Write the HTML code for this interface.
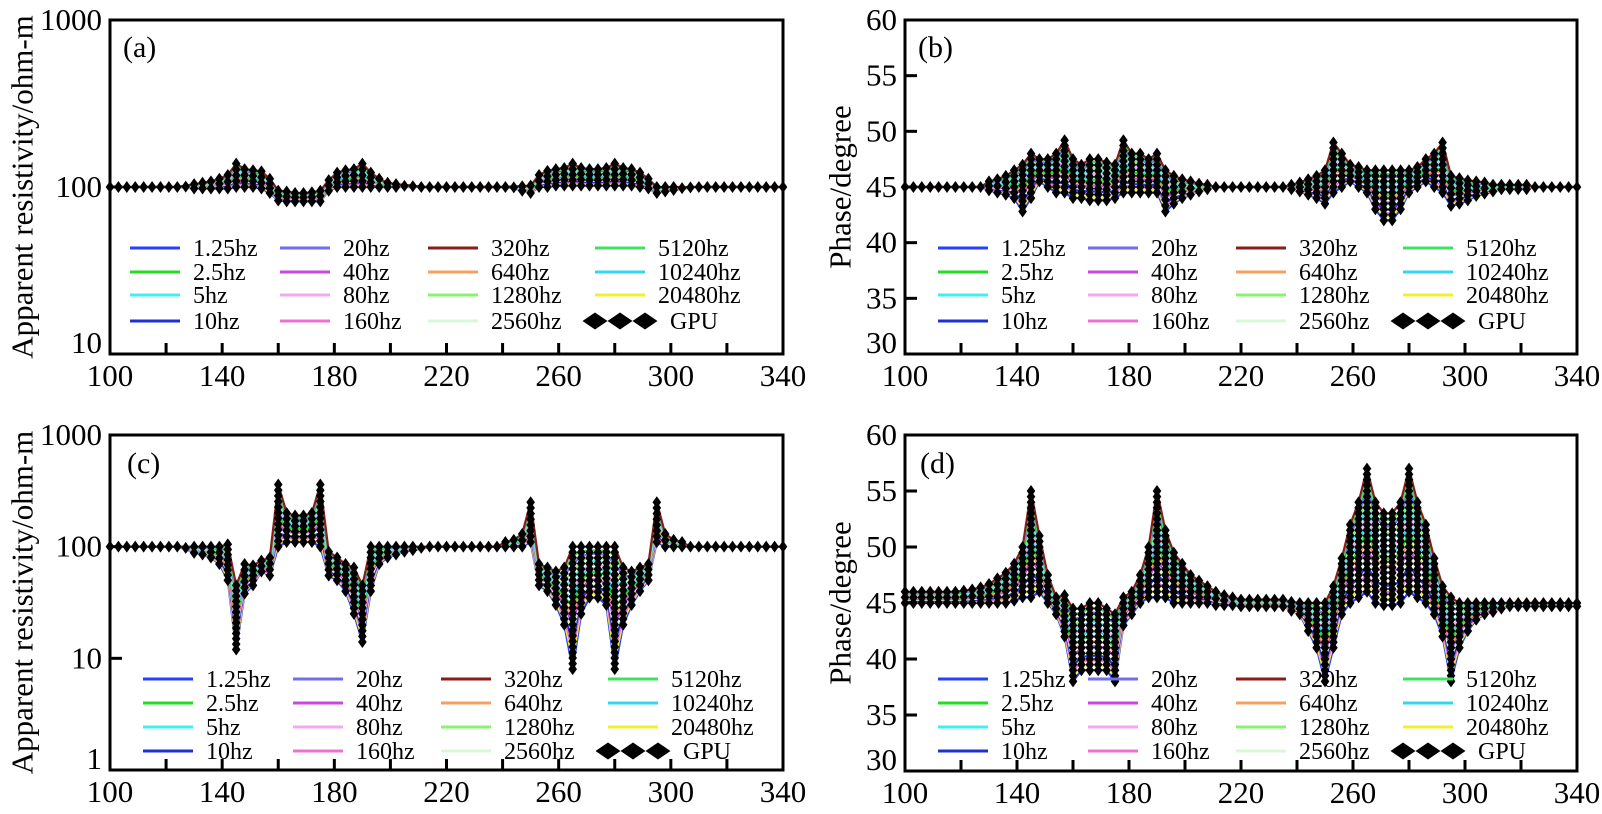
<!DOCTYPE html>
<html><head><meta charset="utf-8"><style>
html,body{margin:0;padding:0;background:#fff;}
svg{display:block;font-family:"Liberation Serif","DejaVu Serif",serif;}
</style></head><body>
<svg id="fig" width="1602" height="814" viewBox="0 0 1602 814"></svg>
<script>
// ---- shared station positions (x axis categories) ----
const stations = [100,103,106,109,112,115,118,121,124,127,130,133,136,139,142,145,148,151,154,157,160,163,166,169,172,175,178,181,184,187,190,193,196,199,202,205,208,211,214,217,220,223,226,229,232,235,238,241,244,247,250,253,256,259,262,265,268,271,274,277,280,283,286,289,292,295,298,301,304,307,310,313,316,319,322,325,328,331,334,337,340];

// ---- panel (a): apparent resistivity, model 1 (low / high across frequencies) ----
const aLo = [100,100,100,100,100,100,100,100,100, 99,98,98,98,98,98, 100,100,100,98,92, 83,82,82,82,82,82, 95,100,100,100,100,100,100,100,100,100,100, 100,100,100,100,100,100,100,100,100,100,100, 98,95,92, 100,100,102,102,102,102,102,102,102,102,102,102,100,98, 92,94,96,97,99, 100,100,100,100,100,100,100,100,100,100,100];
const aHi = [100,100,100,100,100,100,100,100,100, 102,104,106,108,112,118, 138,128,126,124,112, 95,94,92,92,93,95, 110,122,126,128,138,122,112,106,104,103,102, 100,100,100,100,100,100,100,100,100,100,100, 101,101,102, 118,125,128,130,138,130,128,128,130,138,130,128,122,112, 100,100,100,100,100, 100,100,100,100,100,100,100,100,100,100,100];

// ---- panel (b): phase, model 1 ----
const bLo = [45,45,45,45,45,45,45,45,45,45, 44.7,44.5,44.3,44,42.8,44,45.5,45,44.5,44.5,44,44,43.8,43.8,43.8,44,44.5,44.5,44.5,44.5,44.5,42.8,43.5,44,44.3,44.6, 44.8, 45,45,45,45,45,45,45,45,45, 44.8, 44.6,44.3,44,43.5,44.5,45,45.5,45,44.5,43,42,42,43,44.5,45,45.5,45,44.5,43.3,43.5,43.8,44.2,44.4,44.6, 44.8,44.8,44.8,44.8, 45,45,45,45,45,45];
const bHi = [45,45,45,45,45,45,45,45,45,45, 45.5,45.7,46,46.5,47,48,47.5,47.5,48,49.2,47.5,47,47.5,47.5,47.2,47,49.2,48,48,47.5,48,46.5,46,45.7,45.5,45.3, 45.2, 45,45,45,45,45,45,45,45,45, 45.2, 45.4,45.7,46,46.5,49,48,47,46.8,46.5,46.5,46.5,46.5,46.5,46.5,46.8,47.5,48,49,46,45.8,45.6,45.5,45.4,45.2, 45.2,45.2,45.2,45.2, 45,45,45,45,45,45];

// ---- panel (c): apparent resistivity, model 2 ----
const cLo = [100,100,100,100,100,100,100,100,100,95, 88,85,80,70,50,12,38,45,60,55,100,110,110,110,110,100,55,50,40,25,14,40,70,80,85,90,93,95, 100,100,100,100,100,100,100,100,100, 100,100,100,110,45,40,30,20,8,25,35,35,30,8,20,30,40,50,110,100,100,100, 100,100,100,100,100,100,100,100,100,100,100,100];
const cHi = [100,100,100,100,100,100,100,100,100,100, 100,100,100,100,105,45,70,68,75,80,360,200,190,190,200,360,90,80,70,65,45,100,100,100,100,100,100,100, 100,100,100,100,100,100,100,100,100, 110,115,130,250,70,65,60,65,100,100,100,100,100,100,65,60,65,70,250,130,115,110, 100,100,100,100,100,100,100,100,100,100,100,100];

// ---- panel (d): phase, model 2 ----
const dLo = [45,45,45,45,45,45,45, 45,45,45,45,45,45,45.2,45.5,45.5,46,45,44,42,38,39,39,39,39,38,43,44,45,45.5,45.5,45.5,45,45,45,45,45,44.8,44.8,44.8, 44.7,44.7,44.7,44.7,44.7,44.7, 44.3,44,42.5,41,38,41,44,45,45.5,46,45,44.8,44.8,45,46,45.5,45,44,42,38,41,42.5,43.5,44,44.2,44.5, 44.7,44.7,44.7,44.7,44.7,44.7,44.7,44.7,44.7];
const dHi = [46,46,46,46,46,46,46, 46.1,46.2,46.4,46.7,47.2,47.7,48.5,50,55,51,47.5,45.5,45.7,44.5,44.5,45,45,44.5,44,45.5,46,47.5,50,55,51.5,49.5,48.5,47.5,47,46.5,46,45.7,45.5, 45.3,45.3,45.3,45.3,45.3,45.3, 45.1,45,45,45,45,46.5,49,52,54,57,54,53,53,54,57,54,52,49,46.5,45.5,45,45,45,45,45,45, 45,45,45,45,45,45,45,45,45];

// ---- axis tick labels ----
const xTickLabels = [100,140,180,220,260,300,340];
const resTicksA = [10,100,1000];
const resTicksC = [1,10,100,1000];
const phaseTicks = [30,35,40,45,50,55,60];
const freqNames = ["1.25hz","2.5hz","5hz","10hz","20hz","40hz","80hz","160hz","320hz","640hz","1280hz","2560hz","5120hz","10240hz","20480hz"];
const freqColors = ["#2540ff","#22dd22","#40f0f0","#2030d0","#6f6ff2","#c848e0","#f4a8f4","#f070d0","#8a1c1c","#f4a060","#8cf070","#d8f8d8","#40e060","#30d8f0","#f0f030"];

const NS="http://www.w3.org/2000/svg";
const svg=document.getElementById('fig');
function mk(tag,attrs,parent){const e=document.createElementNS(NS,tag);for(const k in attrs)e.setAttribute(k,attrs[k]);(parent||svg).appendChild(e);return e;}

const panels=[
 {id:'a',L:110,T:20,R:783,B:354,log:true,ymin:10,ymax:1000,ticks:resTicksA,lo:aLo,hi:aHi,legX:130,legY:[248,272,295,321],title:'Apparent resistivity/ohm-m',titleX:22,labX:123,labY:57},
 {id:'b',L:905,T:20,R:1577,B:354,log:false,ymin:30,ymax:60,ticks:phaseTicks,lo:bLo,hi:bHi,legX:938,legY:[248,272,295,321],title:'Phase/degree',titleX:840,labX:918,labY:57},
 {id:'c',L:110,T:435,R:783,B:770,log:true,ymin:1,ymax:1000,ticks:resTicksC,lo:cLo,hi:cHi,legX:143,legY:[679,703,727,751],title:'Apparent resistivity/ohm-m',titleX:22,labX:127,labY:473},
 {id:'d',L:905,T:435,R:1577,B:771,log:false,ymin:30,ymax:60,ticks:phaseTicks,lo:dLo,hi:dHi,legX:938,legY:[679,703,727,751],title:'Phase/degree',titleX:840,labX:920,labY:473}
];

function diamond(cx,cy,w,h,parent){
  return mk('polygon',{points:`${cx},${cy-h} ${cx+w},${cy} ${cx},${cy+h} ${cx-w},${cy}`,fill:'#000'},parent);
}

panels.forEach(p=>{
  const g=mk('g',{});
  
  
  const xs=v=>p.L+(v-100)/(340-100)*(p.R-p.L);
  const ys=v=>p.log? p.B-(Math.log10(v)-Math.log10(p.ymin))/(Math.log10(p.ymax)-Math.log10(p.ymin))*(p.B-p.T)
                    : p.B-(v-p.ymin)/(p.ymax-p.ymin)*(p.B-p.T);
  const lg=mk('g',{},g);
  
  
  const order=[0,14,7,3,11,5,9,1,13,6,2,10,4,12,8];
  order.forEach((fi,k)=>{
    const f=k/(order.length-1);
    let d='';
    stations.forEach((s,i)=>{
      const yl=ys(p.lo[i]),yh=ys(p.hi[i]);
      const y=yl+(yh-yl)*f;
      d+=(i?'L':'M')+xs(s).toFixed(1)+','+y.toFixed(1);
    });
    const pl=mk('path',{d:d,fill:'none',stroke:freqColors[fi],'stroke-width':2.2},lg);
    
    
  });
  const mg=mk('g',{},g);
  
  
  stations.forEach((s,i)=>{
    const x=xs(s),yl=ys(p.lo[i]),yh=ys(p.hi[i]);
    const span=Math.abs(yl-yh);
    const n=Math.max(1,Math.round(span/5.5)+1);
    for(let k=0;k<n;k++){
      const y=n===1?(yl+yh)/2:yl+(yh-yl)*k/(n-1);
      diamond(x,y,4.3,6,mg);
    }
  });
  const fr=mk('rect',{x:p.L,y:p.T,width:p.R-p.L,height:p.B-p.T,fill:'none',stroke:'#000','stroke-width':3},g);
  
  
  for(let v=120;v<340;v+=20){
    mk('line',{x1:xs(v),x2:xs(v),y1:p.B,y2:p.B-11,stroke:'#000','stroke-width':3},g);
  }
  xTickLabels.forEach(v=>{
    const t=mk('text',{x:xs(v),y:p.B+32,'text-anchor':'middle','font-size':31},g);
    t.textContent=v;
    
    
  });
  p.ticks.forEach((v,idx)=>{
    const y=ys(v);
    if(idx>0&&idx<p.ticks.length-1) mk('line',{x1:p.L,x2:p.L+12,y1:y,y2:y,stroke:'#000','stroke-width':3},g);
    let ty=y+10; if(idx===0) ty=y-1;
    const t=mk('text',{x:p.L-8,y:ty,'text-anchor':'end','font-size':31},g);
    t.textContent=v;
    
    
  });
  const cy=(p.T+p.B)/2;
  const tt=mk('text',{x:p.titleX,y:cy,'text-anchor':'middle','dominant-baseline':'central','font-size':31,transform:`rotate(-90 ${p.titleX} ${cy})`},g);
  tt.textContent=p.title;
  
  
  const lab=mk('text',{x:p.labX,y:p.labY,'font-size':30},g);
  lab.textContent='('+p.id+')';
  
  
  const leg=mk('g',{},g);
  
  
  const colOff=[0,150,298,465];
  for(let k=0;k<16;k++){
    const col=Math.floor(k/4),row=k%4;
    const lx=p.legX+colOff[col],ly=p.legY[row];
    const eg=mk('g',{},leg);
    
    
    if(k<15){
      mk('line',{x1:lx,x2:lx+50,y1:ly,y2:ly,stroke:freqColors[k],'stroke-width':3},eg);
      const t=mk('text',{x:lx+63,y:ly+8,'font-size':24},eg);
      t.textContent=freqNames[k];
    }else{
      [0,25,50].forEach(dx=>diamond(lx+dx,ly,12.5,8.5,eg));
      const t=mk('text',{x:lx+75,y:ly+8,'font-size':24},eg);
      t.textContent='GPU';
    }
  }
});
</script>
</body></html>
